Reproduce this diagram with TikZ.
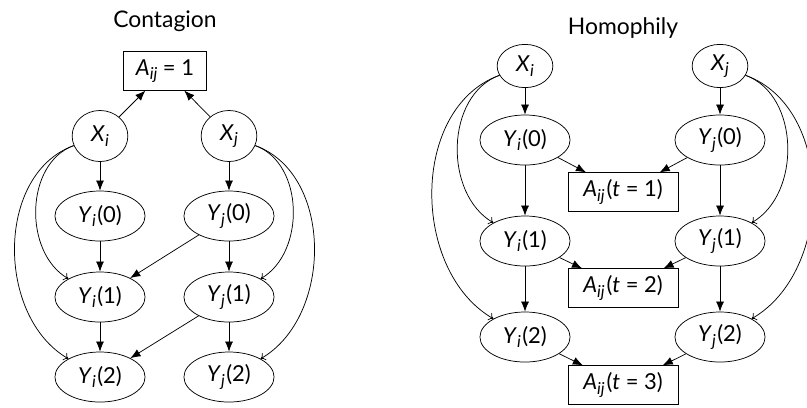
\documentclass[tikz,border=0pt]{standalone}
\usepackage{fontspec}
\setmainfont{Lato}
\usetikzlibrary{shapes.geometric,arrows.meta}
\newcommand{\lowix}[1]{\raisebox{-.4ex}{\fontsize{9}{10}\selectfont\itshape #1}}
\newcommand{\yv}[2]{\textit{Y}\lowix{#1}\kern.8pt(#2)}
\newcommand{\aij}{\textit{A}\lowix{ij}}
\begin{document}
\begin{tikzpicture}[x=0.0192cm,y=0.0192cm,font=\fontsize{12}{14}\selectfont,
    latent/.style={ellipse,draw,inner sep=0pt,minimum width=1.07cm,minimum height=.98cm},
    latentflat/.style={latent,minimum height=.83cm},
    outcome/.style={ellipse,draw,inner sep=0pt,minimum width=1.73cm,minimum height=.96cm},
    tie/.style={rectangle,draw,inner sep=2pt,minimum height=.74cm},
    title/.style={font=\fontsize{12.5}{14}\selectfont},
    arr/.style={-{Latex[length=5.5pt,width=4.4pt]}},
    curv/.style={-{To[length=2.5pt,width=4.5pt]}}]
    \useasboundingbox (0,0) rectangle (807,-407);
    % contagion
    \node(ct)[title] at (165,-21){Contagion};
    \node(a)[tie,minimum width=1.59cm] at (165,-71){\aij\ = 1};
    \node(xi)[latent] at (100,-136){\textit{X}\lowix{i}};
    \node(xj)[latent] at (229,-136){\textit{X}\lowix{j}};
    \node(yi0)[outcome] at (100,-216){\yv{i}{0}};
    \node(yj0)[outcome] at (229,-216){\yv{j}{0}};
    \node(yi1)[outcome] at (100,-297){\yv{i}{1}};
    \node(yj1)[outcome] at (229,-297){\yv{j}{1}};
    \node(yi2)[outcome] at (100,-377){\yv{i}{2}};
    \node(yj2)[outcome] at (229,-377){\yv{j}{2}};
    \draw[arr] (xi) -- (a);
    \draw[arr] (xj) -- (a);
    \draw[arr] (xi) -- (yi0);
    \draw[arr] (xj) -- (yj0);
    \draw[arr] (yi0) -- (yi1);
    \draw[arr] (yi1) -- (yi2);
    \draw[arr] (yj0) -- (yj1);
    \draw[arr] (yj1) -- (yj2);
    \draw[arr] (yj0) -- (yi1);
    \draw[arr] (yj1) -- (yi2);
    \draw[curv] (xi) to[out=200,in=150] (yi1);
    \draw[curv] (xi) to[out=200,in=150] (yi2);
    \draw[curv] (xj) to[out=-20,in=30] (yj1);
    \draw[curv] (xj) to[out=-20,in=30] (yj2);
    % homophily
    \node(ht)[title] at (623,-28){Homophily};
    \node(hxi)[latentflat] at (525,-66){\textit{X}\lowix{i}};
    \node(hxj)[latentflat] at (720,-66){\textit{X}\lowix{j}};
    \node(hyi0)[outcome] at (525,-140){\yv{i}{0}};
    \node(hyj0)[outcome] at (720,-140){\yv{j}{0}};
    \node(ha1)[tie,minimum width=2.11cm] at (623,-192){\aij\kern1pt(\textit{t} = 1)};
    \node(hyi1)[outcome] at (525,-241){\yv{i}{1}};
    \node(hyj1)[outcome] at (720,-241){\yv{j}{1}};
    \node(ha2)[tie,minimum width=2.11cm] at (623,-288){\aij\kern1pt(\textit{t} = 2)};
    \node(hyi2)[outcome] at (525,-337){\yv{i}{2}};
    \node(hyj2)[outcome] at (720,-337){\yv{j}{2}};
    \node(ha3)[tie,minimum width=2.11cm] at (623,-385){\aij\kern1pt(\textit{t} = 3)};
    \draw[arr] (hxi) -- (hyi0);
    \draw[arr] (hxj) -- (hyj0);
    \draw[arr] (hyi0) -- (hyi1);
    \draw[arr] (hyi1) -- (hyi2);
    \draw[arr] (hyj0) -- (hyj1);
    \draw[arr] (hyj1) -- (hyj2);
    \draw[arr] (hyi0) -- (ha1);
    \draw[arr] (hyj0) -- (ha1);
    \draw[arr] (hyi1) -- (ha2);
    \draw[arr] (hyj1) -- (ha2);
    \draw[arr] (hyi2) -- (ha3);
    \draw[arr] (hyj2) -- (ha3);
    \draw[curv] (hxi) to[out=200,in=150] (hyi1);
    \draw[curv] (hxi) to[out=200,in=150] (hyi2);
    \draw[curv] (hxj) to[out=-20,in=30] (hyj1);
    \draw[curv] (hxj) to[out=-20,in=30] (hyj2);
\end{tikzpicture}
\end{document}
